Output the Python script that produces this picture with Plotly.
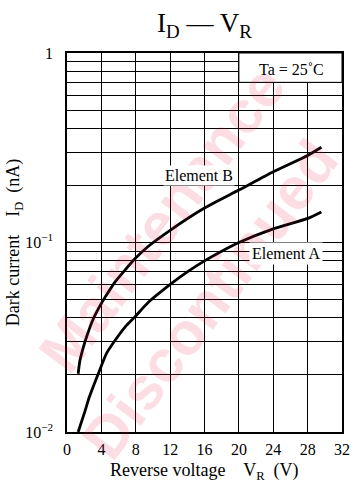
import math
import plotly.graph_objects as go

# ---- data ----
vr_b = [1.3, 1.5, 1.9, 2.3, 3.0, 3.8, 4.5, 5.6, 6.8, 7.9, 9.4, 12, 16, 20, 24, 28, 29.6]
id_b = [0.0203, 0.0238, 0.028, 0.032, 0.039, 0.046, 0.052, 0.062, 0.072, 0.082,
        0.095, 0.116, 0.152, 0.189, 0.236, 0.288, 0.318]

vr_a = [1.3, 2.0, 2.6, 3.8, 4.6, 5.6, 6.8, 7.9, 9.5, 12.2, 14, 16, 18, 20, 24, 28, 29.6]
id_a = [0.0100, 0.0125, 0.0153, 0.0212, 0.026, 0.0305, 0.036, 0.0405, 0.0485,
        0.061, 0.070, 0.080, 0.090, 0.100, 0.118, 0.134, 0.145]

x_ticks = [0, 4, 8, 12, 16, 20, 24, 28, 32]
y_decades = [0.01, 0.1, 1]
y_decade_labels = ["10<sup>\u22122</sup>", "10<sup>\u22121</sup>", "1"]

SERIF = "Liberation Serif"

# y grid values: every 1..9 multiple in each decade
y_grid = []
y_text = []
for e in (-2, -1):
    for k in range(1, 10):
        v = k * 10 ** e
        y_grid.append(v)
        y_text.append(y_decade_labels[e + 2] if k == 1 else "")
y_grid.append(1)
y_text.append(y_decade_labels[2])

fig = go.Figure()
for xs, ys in ((vr_a, id_a), (vr_b, id_b)):
    fig.add_trace(go.Scatter(x=xs, y=ys, mode="lines",
                             line=dict(color="black", width=2.8, shape="spline", smoothing=0.6),
                             showlegend=False, hoverinfo="skip"))

# box for Ta = 25 C (covers grid lines); shapes on log axes take data values
fig.add_shape(type="rect", xref="x", yref="y", x0=20, x1=32,
              y0=0.7, y1=1, fillcolor="white",
              line=dict(color="black", width=1), layer="above")

WM = dict(family="Liberation Sans", size=60, color="rgba(235,30,70,0.15)",
          weight="bold")

annotations = [
    # watermark
    dict(text="Maintenance", x=0.346, y=0.56, xref="paper", yref="paper",
         textangle=-53, showarrow=False, font=WM),
    dict(text="Discontinued", x=0.52, y=0.35, xref="paper", yref="paper",
         textangle=-53, showarrow=False, font=WM),
    dict(text="Ta = 25\u02daC", x=26.1, y=math.log10(0.815), xref="x", yref="y",
         showarrow=False, font=dict(family=SERIF, size=16, color="black")),
    dict(text="Element B", x=15.4, y=math.log10(0.226), xref="x", yref="y",
         showarrow=False, bgcolor="white", borderpad=1,
         font=dict(family=SERIF, size=16, color="black")),
    dict(text="Element A", x=25.5, y=math.log10(0.088), xref="x", yref="y",
         showarrow=False, bgcolor="white", borderpad=2,
         font=dict(family=SERIF, size=16, color="black")),
    dict(text="Reverse voltage &nbsp;&nbsp; V<sub>R</sub> &nbsp;(V)", x=0.5, y=-0.104,
         xref="paper", yref="paper", xanchor="center", yanchor="middle",
         showarrow=False, font=dict(family=SERIF, size=18, color="black")),
    dict(text="Dark current &nbsp;&nbsp; I<sub>D</sub> &nbsp;(nA)", x=-0.19, y=0.5,
         xref="paper", yref="paper", xanchor="center", yanchor="middle", textangle=-90,
         showarrow=False, font=dict(family=SERIF, size=18, color="black")),
]

fig.update_layout(
    width=359, height=487,
    margin=dict(l=67, r=9, t=53, b=55),
    paper_bgcolor="white", plot_bgcolor="white",
    title=dict(text="I<sub>D</sub> \u2014 V<sub>R</sub>", x=0.5, xref="paper",
               y=0.953, yref="container", xanchor="center", yanchor="middle",
               font=dict(family=SERIF, size=27, color="black")),
    annotations=annotations,
    xaxis=dict(range=[0, 32], tickvals=x_ticks, ticktext=[str(v) for v in x_ticks],
               showgrid=True, gridcolor="black", gridwidth=1,
               showline=True, linecolor="black", linewidth=1.5, mirror=True,
               ticks="outside", ticklen=2, tickcolor="rgba(0,0,0,0)",
               zeroline=False, tickfont=dict(family=SERIF, size=16, color="black")),
    yaxis=dict(type="log", range=[-2, 0], tickvals=y_grid, ticktext=y_text,
               showgrid=True, gridcolor="black", gridwidth=1,
               showline=True, linecolor="black", linewidth=1.5, mirror=True,
               ticks="outside", ticklen=9, tickcolor="rgba(0,0,0,0)",
               zeroline=False, tickfont=dict(family=SERIF, size=16, color="black")),
)

fig.write_html("out.html")
